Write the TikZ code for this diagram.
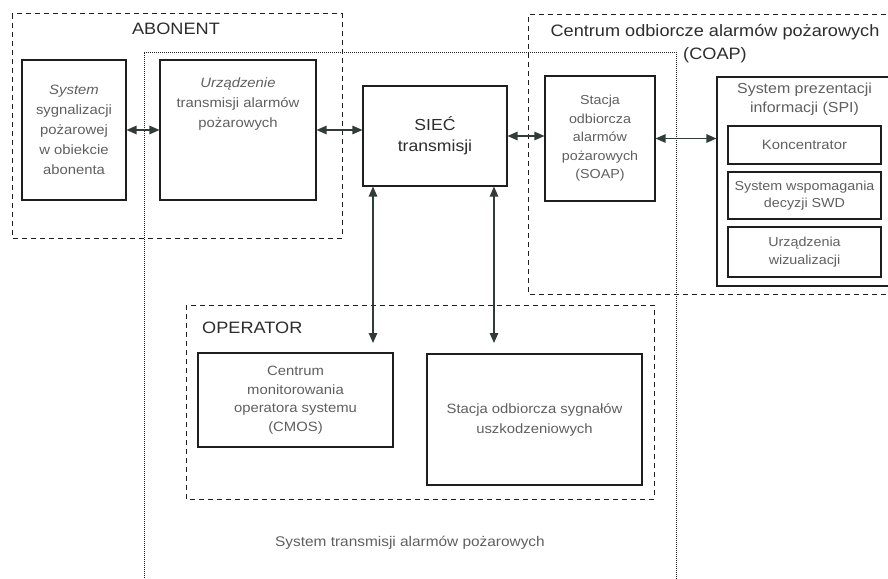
\documentclass[tikz,border=0pt]{standalone}
\usepackage{fontspec}
\setmainfont[FakeStretch=1.1]{Liberation Sans}
\usetikzlibrary{arrows.meta}
\definecolor{textA}{RGB}{95, 95, 95}
\definecolor{headA}{RGB}{45, 45, 45}
\definecolor{lineA}{RGB}{30, 30, 30}
\definecolor{tipA} {RGB}{50, 60, 55}

\begin{document}
\begin{tikzpicture}[x=1pt, y=-1pt,
    blok/.style={draw=lineA, line width=1.1pt, inner sep=0pt, text=textA, align=center,
      font=\fontsize{13.5}{20}\selectfont},
    opis/.style={text=textA, align=center, inner sep=0pt, font=\fontsize{13.5}{20}\selectfont},
    tytul/.style={text=headA, inner sep=0pt, font=\fontsize{16.5}{23}\selectfont},
    ramka/.style={draw=lineA, line width=1pt, dash pattern=on 5pt off 4pt},
    obszar/.style={draw=lineA, line width=0.6pt, dash pattern=on 1pt off 1pt},
    strz/.style={draw=tipA, line width=1.2pt,
      {Triangle[length=10pt, width=8.5pt]}-{Triangle[length=10pt, width=8.5pt]}}]
  \useasboundingbox (0,0) rectangle (888,578);

  % ramki obszarow
  \path[ramka] (12,14) rectangle (342,238);
  \path[ramka] (895,15) -| (528,294) -- (895,294);
  \path[obszar] (144,590) |- (676,52) -- (676,590);
  \path[ramka] (186,305) rectangle (654,499);

  \node[tytul] (abonent) at (176,29) {ABONENT};
  \node[tytul, align=center] (coap) at (715,44) {Centrum odbiorcze alarmów pożarowych\\(COAP)};
  \node[tytul, anchor=west] (operator) at (202,328) {OPERATOR};
  \node[opis, font=\fontsize{14}{18}\selectfont] (stap) at (410,543) {System transmisji alarmów pożarowych};

  % bloki
  \node[blok, minimum width=104pt, minimum height=140pt] (sys) at (74,130)
    {\textit{System}\\sygnalizacji\\pożarowej\\w obiekcie\\abonenta};
  \node[blok, minimum width=156pt, minimum height=140pt] (urz) at (238,130) {};
  \node[opis, anchor=north] (urzT) at (238,78) {\textit{Urządzenie}\\transmisji alarmów\\pożarowych};
  \node[blok, minimum width=144pt, minimum height=100pt, text=headA,
    font=\fontsize{16}{21}\selectfont] (siec) at (435,136) {SIEĆ\\transmisji};
  \node[blok, minimum width=110pt, minimum height=125pt,
    font=\fontsize{13}{18.5}\selectfont] (soap) at (600,138.5)
    {Stacja\\odbiorcza\\alarmów\\pożarowych\\(SOAP)};

  \node[blok, minimum width=175pt, minimum height=209pt] (spi) at (804.5,181.5) {};
  \node[opis, anchor=north, font=\fontsize{14.5}{19}\selectfont] (spiT) at (804.5,83)
    {System prezentacji\\informacji (SPI)};
  \node[blok, minimum width=153pt, minimum height=38pt] (konc) at (804.5,145) {Koncentrator};
  \node[blok, minimum width=153pt, minimum height=47pt,
    font=\fontsize{13}{17}\selectfont] (swd) at (804.5,195.5) {System wspomagania\\decyzji SWD};
  \node[blok, minimum width=153pt, minimum height=50pt,
    font=\fontsize{13}{18}\selectfont] (wiz) at (804.5,252) {Urządzenia\\wizualizacji};

  \node[blok, minimum width=195pt, minimum height=94pt,
    font=\fontsize{13.5}{18.5}\selectfont] (cmos) at (295.5,400)
    {Centrum\\monitorowania\\operatora systemu\\(CMOS)};
  \node[blok, minimum width=215pt, minimum height=131pt] (sosu) at (534.5,419.5)
    {Stacja odbiorcza sygnałów\\uszkodzeniowych};

  % polaczenia
  \coordinate (opA) at (373,343);
  \coordinate (opB) at (494,343);
  \path[strz] (sys.east) -- (urz.west);
  \path[strz] (urz.east) -- (urz.east -| siec.west);
  \path[strz] (siec.east) -- (siec.east -| soap.west);
  \path[strz] (soap.east) -- (soap.east -| spi.west);
  \path[strz] (siec.south -| opA) -- (opA);
  \path[strz] (siec.south -| opB) -- (opB);
\end{tikzpicture}
\end{document}
